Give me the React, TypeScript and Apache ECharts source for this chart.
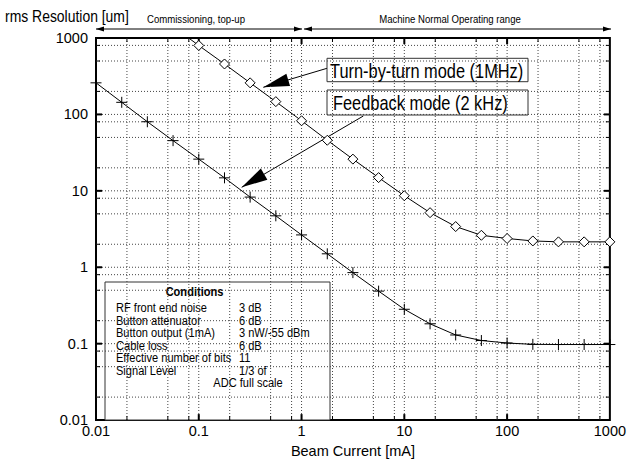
import React, { useEffect, useRef } from "react";
import * as echarts from "echarts";

const FONT = "'Liberation Sans', Arial, Helvetica, sans-serif";
const NARROW = 0.82;

// Beam current [mA], quarter-decade steps
const tbtCurrent = [0.0562, 0.1, 0.178, 0.316, 0.562, 1, 1.78, 3.16, 5.62, 10, 17.8, 31.6, 56.2, 100, 178, 316, 562, 1000];
const tbtResolution = [1420, 798, 457, 259, 147, 82.6, 45.9, 26.0, 14.9, 8.63, 5.18, 3.41, 2.62, 2.38, 2.21, 2.15, 2.15, 2.15];
const fbCurrent = [0.01, 0.0178, 0.0316, 0.0562, 0.1, 0.178, 0.316, 0.562, 1, 1.78, 3.16, 5.62, 10, 17.8, 31.6, 56.2, 100, 178, 316, 562, 1000];
const fbResolution = [259, 144, 80.2, 45.4, 26.0, 14.8, 8.28, 4.71, 2.65, 1.5, 0.851, 0.487, 0.282, 0.182, 0.130, 0.110, 0.102, 0.098, 0.0975, 0.0975, 0.0975];

const xTickLabels = ["0.01", "0.1", "1", "10", "100", "1000"];
const yTickLabels = ["0.01", "0.1", "1", "10", "100", "1000"];

const xMajorGrid = [0.1, 1, 10, 100];
const xMinorGrid = [0.02, 0.05, 0.08, 0.2, 0.5, 0.8, 2, 5, 8, 20, 50, 80, 200, 500, 800];
const yMajorGrid = [0.1, 1, 10, 100];
const yMinorGrid = [0.02, 0.05, 0.08, 0.2, 0.5, 0.8, 2, 5, 8, 20, 50, 80, 200, 500, 800];

const conditionLabels = ["RF front end noise", "Button attenuator", "Button output (1mA)", "Cable loss", "Effective number of bits", "Signal Level"];
const conditionValues = ["3 dB", "6 dB", "3 nW/-55 dBm", "6 dB", "11", "1/3 of"];

function arrowHead(tipX: number, tipY: number, fromX: number, fromY: number, len: number, half: number) {
  const dx = fromX - tipX;
  const dy = fromY - tipY;
  const d = Math.sqrt(dx * dx + dy * dy);
  const ux = dx / d;
  const uy = dy / d;
  const bx = tipX + ux * len;
  const by = tipY + uy * len;
  return [
    [tipX, tipY],
    [bx - uy * half, by + ux * half],
    [bx + uy * half, by - ux * half],
  ];
}

function arrowGraphic(x1: number, y1: number, x2: number, y2: number, len: number, half: number, both: boolean) {
  const els: any[] = [
    { type: "line", shape: { x1, y1, x2, y2 }, style: { stroke: "#000", lineWidth: 1 } },
    { type: "polygon", shape: { points: arrowHead(x2, y2, x1, y1, len, half) }, style: { fill: "#000" } },
  ];
  if (both) {
    els.push({ type: "polygon", shape: { points: arrowHead(x1, y1, x2, y2, len, half) }, style: { fill: "#000" } });
  }
  return els;
}

function narrowText(text: string, x: number, y: number, size: number, align: string, bold = false) {
  return {
    type: "text",
    x,
    y,
    scaleX: NARROW,
    style: { text, font: `${bold ? "bold " : ""}${size}px ${FONT}`, fill: "#000", align, verticalAlign: "middle" },
  };
}

function vGridRender(params: any, api: any) {
  const cs = params.coordSys;
  const x = api.coord([api.value(0), 1])[0];
  const major = api.value(2) === 1;
  const tl = major ? 6 : 4;
  const lw = major ? 2 : 1;
  const top = cs.y;
  const bottom = cs.y + cs.height;
  return {
    type: "group",
    children: [
      { type: "line", shape: { x1: x, y1: top, x2: x, y2: bottom }, style: { stroke: "#444", lineWidth: 1, lineDash: [1, 2] } },
      { type: "line", shape: { x1: x, y1: bottom, x2: x, y2: bottom - tl }, style: { stroke: "#000", lineWidth: lw } },
      { type: "line", shape: { x1: x, y1: top, x2: x, y2: top + tl }, style: { stroke: "#000", lineWidth: lw } },
    ],
  };
}

function hGridRender(params: any, api: any) {
  const cs = params.coordSys;
  const y = api.coord([1, api.value(1)])[1];
  const major = api.value(2) === 1;
  const tl = major ? 6 : 4;
  const lw = major ? 2 : 1;
  const left = cs.x;
  const right = cs.x + cs.width;
  return {
    type: "group",
    children: [
      { type: "line", shape: { x1: left, y1: y, x2: right, y2: y }, style: { stroke: "#444", lineWidth: 1, lineDash: [1, 2] } },
      { type: "line", shape: { x1: left, y1: y, x2: left + tl, y2: y }, style: { stroke: "#000", lineWidth: lw } },
      { type: "line", shape: { x1: right, y1: y, x2: right - tl, y2: y }, style: { stroke: "#000", lineWidth: lw } },
    ],
  };
}

export default function App() {
  const ref = useRef<HTMLDivElement>(null);
  useEffect(() => {
    if (!ref.current) return;
    const chart = echarts.init(ref.current, null, { renderer: "svg" });

    const vData = [
      ...xMajorGrid.map((v) => [v, 1, 1]),
      ...xMinorGrid.map((v) => [v, 1, 0]),
    ];
    const hData = [
      ...yMajorGrid.map((v) => [1, v, 1]),
      ...yMinorGrid.map((v) => [1, v, 0]),
    ];

    const condChildren: any[] = [
      { type: "rect", shape: { x: 105, y: 282, width: 225, height: 138 }, style: { fill: "#fff", stroke: "#333", lineWidth: 1 } },
      narrowText("Conditions", 194.5, 292, 13.5, "center", true),
    ];
    conditionLabels.forEach((t, i) => {
      condChildren.push(narrowText(t, 116, 307.7 + 12.5 * i, 13.5, "left"));
      condChildren.push(narrowText(conditionValues[i], 239, 307.7 + 12.5 * i, 13.5, "left"));
    });
    condChildren.push(narrowText("ADC full scale", 213.3, 382.7, 13.5, "left"));

    const option: any = {
      animation: false,
      backgroundColor: "#fff",
      grid: { left: 96, right: 18, top: 38, bottom: 34.5, show: true, borderColor: "#000", borderWidth: 2, backgroundColor: "transparent" },
      xAxis: {
        type: "log",
        logBase: 10,
        min: 0.01,
        max: 1000,
        name: "Beam Current [mA]",
        nameLocation: "middle",
        nameGap: 20,
        nameTextStyle: { fontFamily: FONT, fontSize: 14.5, color: "#000" },
        axisLine: { show: false },
        axisTick: { show: false },
        splitLine: { show: false },
        axisLabel: { fontFamily: FONT, fontSize: 14.5, color: "#000", margin: 3, formatter: (_v: number, i: number) => xTickLabels[i] },
      },
      yAxis: {
        type: "log",
        logBase: 10,
        min: 0.01,
        max: 1000,
        axisLine: { show: false },
        axisTick: { show: false },
        splitLine: { show: false },
        axisLabel: { fontFamily: FONT, fontSize: 14.5, color: "#000", margin: 8, formatter: (_v: number, i: number) => yTickLabels[i] },
      },
      series: [
        { type: "custom", renderItem: vGridRender, data: vData, encode: { x: 0, y: 1 }, silent: true, z: 1, clip: false },
        { type: "custom", renderItem: hGridRender, data: hData, encode: { x: 0, y: 1 }, silent: true, z: 1, clip: false },
        {
          name: "Turn-by-turn mode (1MHz)",
          type: "line",
          data: tbtCurrent.map((x, i) => [x, tbtResolution[i]]),
          clip: true,
          z: 3,
          symbol: "diamond",
          symbolSize: 10,
          showAllSymbol: true,
          lineStyle: { color: "#000", width: 1 },
          itemStyle: { color: "#fff", borderColor: "#000", borderWidth: 1 },
        },
        {
          name: "Feedback mode (2 kHz)",
          type: "line",
          data: fbCurrent.map((x, i) => [x, fbResolution[i]]),
          clip: false,
          z: 3,
          symbol: "path://M5,0L5,10M0,5L10,5",
          symbolSize: 11,
          showAllSymbol: true,
          lineStyle: { color: "#000", width: 1 },
          itemStyle: { color: "#000", borderColor: "#000", borderWidth: 1 },
        },
      ],
      graphic: [
        narrowText("rms Resolution [um]", 5, 16, 17, "left"),
        narrowText("Commissioning, top-up", 196, 18.5, 11.7, "center"),
        narrowText("Machine Normal Operating range", 450, 18.5, 11.7, "center"),
        { type: "group", children: arrowGraphic(96, 29, 302, 29, 8, 2.5, true) },
        { type: "group", children: arrowGraphic(304, 29, 611, 29, 8, 2.5, true) },
        { type: "group", z: 10, children: arrowGraphic(327, 68.3, 263.3, 87.3, 26, 6.5, false) },
        { type: "group", z: 10, children: arrowGraphic(363.3, 116, 241.7, 187.3, 26, 6.5, false) },
        {
          type: "group",
          z: 11,
          children: [
            { type: "rect", shape: { x: 327, y: 58.3, width: 201, height: 23.4 }, style: { fill: "#fff", stroke: "#333", lineWidth: 1 } },
            narrowText("Turn-by-turn mode (1MHz)", 330, 71, 20, "left"),
          ],
        },
        {
          type: "group",
          z: 11,
          children: [
            { type: "rect", shape: { x: 327, y: 90, width: 201, height: 25 }, style: { fill: "#fff", stroke: "#333", lineWidth: 1 } },
            narrowText("Feedback mode (2 kHz)", 333, 102.5, 20, "left"),
          ],
        },
        { type: "group", z: 11, children: condChildren },
      ],
    };
    chart.setOption(option);
    return () => chart.dispose();
  }, []);
  return <div ref={ref} style={{ position: "absolute", left: 0, top: 0, width: 629, height: 463 }} />;
}
